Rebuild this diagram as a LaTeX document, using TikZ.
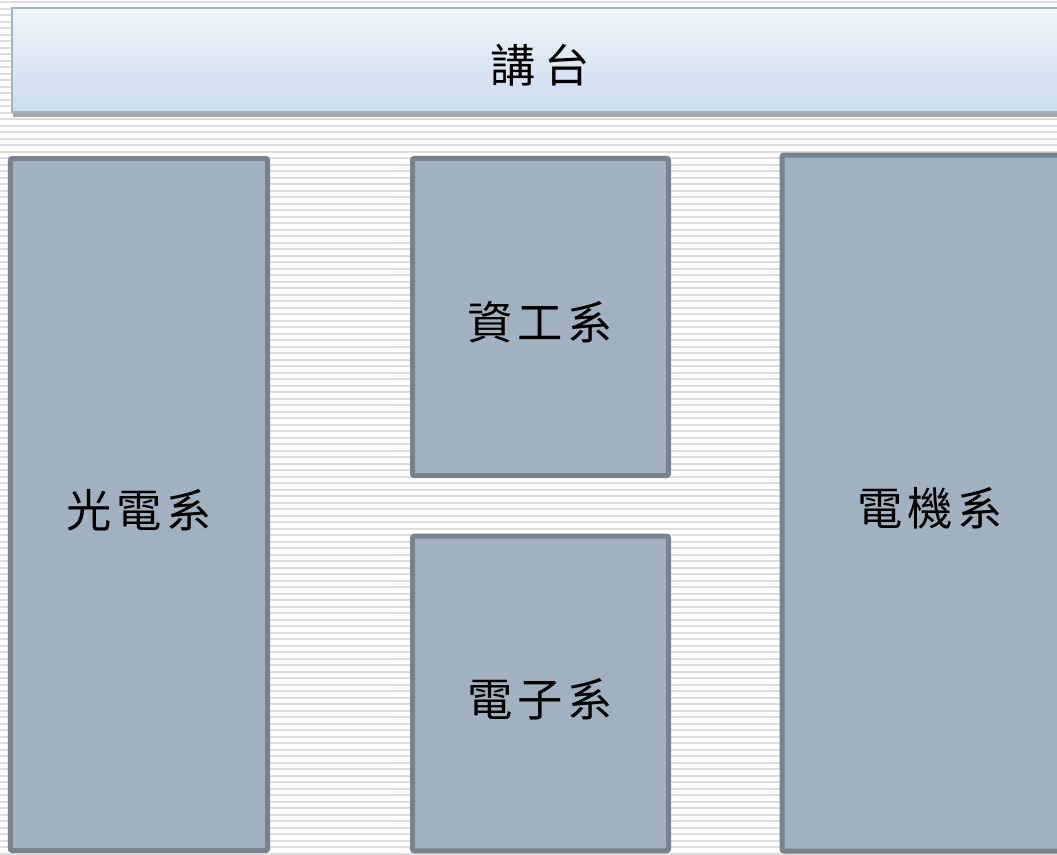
\documentclass[tikz,border=0pt]{standalone}
\usepackage{fontspec}
\newfontfamily\cjk{Noto Sans CJK TC}
\usetikzlibrary{positioning}

\definecolor{deptfill}{HTML}{A2B1C0}
\definecolor{deptline}{HTML}{78838E}
\definecolor{stagetop}{HTML}{F0F5FC}
\definecolor{stagebot}{HTML}{CBDBEC}
\definecolor{stageline}{HTML}{A3B3C6}
\definecolor{stripe}{HTML}{DEDEDE}

\newcommand{\kgap}{\hspace{3.5pt}}

\begin{document}
\begin{tikzpicture}[x=0.75pt, y=-0.75pt,
    dept/.style={draw=deptline, line width=3.75pt, fill=deptfill,
      rounded corners=1.5pt, inner sep=0pt, text height=38pt, text depth=4pt,
      font=\cjk\fontsize{34}{40}\selectfont},
    stage/.style={draw=stageline, line width=1.5pt, top color=stagetop,
      bottom color=stagebot, inner sep=0pt, text height=38pt, text depth=4pt,
      font=\cjk\fontsize{34}{40}\selectfont}]
      % Page area and striped floor
      \useasboundingbox (0,0) rectangle (1057,854);
      \clip (0,0) rectangle (1057,854);
      \fill[white] (0,0) rectangle (1057,854);
      \foreach \y in {2,8.5,...,854}
        \draw[stripe, line width=1.5pt] (0,\y) -- (1057,\y);

      % The stage at the front, with its shadow
      \fill[black!35] (13,12) rectangle (1075,117);
      \node[stage, minimum width=792pt, minimum height=78pt] (stage) at (540,60)
        {講\hspace{6.5pt}台};

      % The seats of each department
      \node[dept, minimum width=193pt, minimum height=519pt] (optics) at (139,504.5) {光\kgap 電\kgap 系};
      \node[dept, minimum width=192pt, minimum height=238pt] (csie) at (540.5,317) {資\kgap 工\kgap 系};
      \node[dept, minimum width=192pt, minimum height=236pt] (elec) at (540.5,693.5) {電\kgap 子\kgap 系};
      \node[dept, minimum width=222pt, minimum height=522pt] (ee) at (930,503) {電\kgap 機\kgap 系};
\end{tikzpicture}
\end{document}
